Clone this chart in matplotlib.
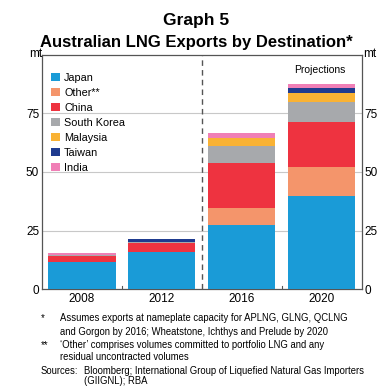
import numpy as np
import matplotlib.pyplot as plt

years = ["2008", "2012", "2016", "2020"]
series = ["Japan", "Other**", "China", "South Korea", "Malaysia", "Taiwan", "India"]
japan = [11.7, 16.0, 27.4, 39.7]
other = [0.0, 0.0, 7.1, 12.3]
china = [2.4, 3.8, 19.2, 19.2]
south_korea = [0.4, 0.5, 7.4, 8.8]
malaysia = [0.0, 0.0, 3.6, 3.9]
taiwan = [0.0, 1.0, 0.0, 1.9]
india = [1.0, 0.0, 2.1, 1.8]
colors = ["#1a9bd7", "#f4956b", "#ee3340", "#a7a9ac", "#f9b234", "#1f3b8f", "#f07fb6"]

values = [japan, other, china, south_korea, malaysia, taiwan, india]

plt.rcParams['font.family'] = ['Liberation Sans', 'DejaVu Sans']

fig = plt.figure(figsize=(3.92, 3.86), dpi=100)
ax = fig.add_axes([0.107, 0.251, 0.816, 0.607])

x = np.arange(len(years))
bottom = np.zeros(len(years))
for name, vals, c in zip(series, values, colors):
    ax.bar(x, vals, bottom=bottom, width=0.84, color=c, label=name, zorder=3)
    bottom += np.array(vals)

ax.set_xlim(-0.5, 3.5)
ax.set_ylim(0, 100)
ax.set_yticks([0, 25, 50, 75])
for yv in [25, 50, 75]:
    ax.axhline(yv, color="#c8c8c8", lw=0.8, zorder=1)
ax.axvline(1.5, color="#555555", lw=1.0, ls=(0, (4, 3)), zorder=2)
for xb in [0.5, 2.5]:
    ax.plot([xb, xb], [0, 1.5], color="#555555", lw=0.8, zorder=2)

ax.set_xticks(x)
ax.set_xticklabels(years)
ax.tick_params(axis="x", length=0, labelsize=8.5, pad=3)
ax.tick_params(axis="y", length=0, labelsize=8.5, pad=2, right=True, labelright=True)
for s in ax.spines.values():
    s.set_color("#555555")
    s.set_linewidth(0.9)

ax.text(0, 1.005, "mt", transform=ax.transAxes, ha="right", va="center", fontsize=8.5)
ax.text(1.005, 1.005, "mt", transform=ax.transAxes, ha="left", va="center", fontsize=8.5)
ax.text(2.97, 93.5, "Projections", ha="center", va="center", fontsize=7.5)

leg = ax.legend(loc="upper left", bbox_to_anchor=(0.0, 0.96), frameon=False,
                fontsize=7.8, handlelength=0.85, handleheight=0.85, handletextpad=0.4,
                labelspacing=0.45, borderaxespad=0.4)

fig.text(0.5, 0.948, "Graph 5", ha="center", va="center", fontsize=12.5, fontweight="bold")
fig.text(0.5, 0.891, "Australian LNG Exports by Destination*", ha="center", va="center",
         fontsize=12, fontweight="bold")

fs = 6.85
fig.text(0.105, 0.176, "*", fontsize=fs, va="center")
fig.text(0.153, 0.176, "Assumes exports at nameplate capacity for APLNG, GLNG, QCLNG", fontsize=fs, va="center")
fig.text(0.153, 0.140, "and Gorgon by 2016; Wheatstone, Ichthys and Prelude by 2020", fontsize=fs, va="center")
fig.text(0.105, 0.106, "**", fontsize=fs, va="center")
fig.text(0.153, 0.106, "\u2018Other\u2019 comprises volumes committed to portfolio LNG and any", fontsize=fs, va="center")
fig.text(0.153, 0.075, "residual uncontracted volumes", fontsize=fs, va="center")
fig.text(0.103, 0.039, "Sources:", fontsize=fs, va="center")
fig.text(0.215, 0.039, "Bloomberg; International Group of Liquefied Natural Gas Importers", fontsize=fs, va="center")
fig.text(0.215, 0.012, "(GIIGNL); RBA", fontsize=fs, va="center")

fig.savefig("out.png", dpi=100)
